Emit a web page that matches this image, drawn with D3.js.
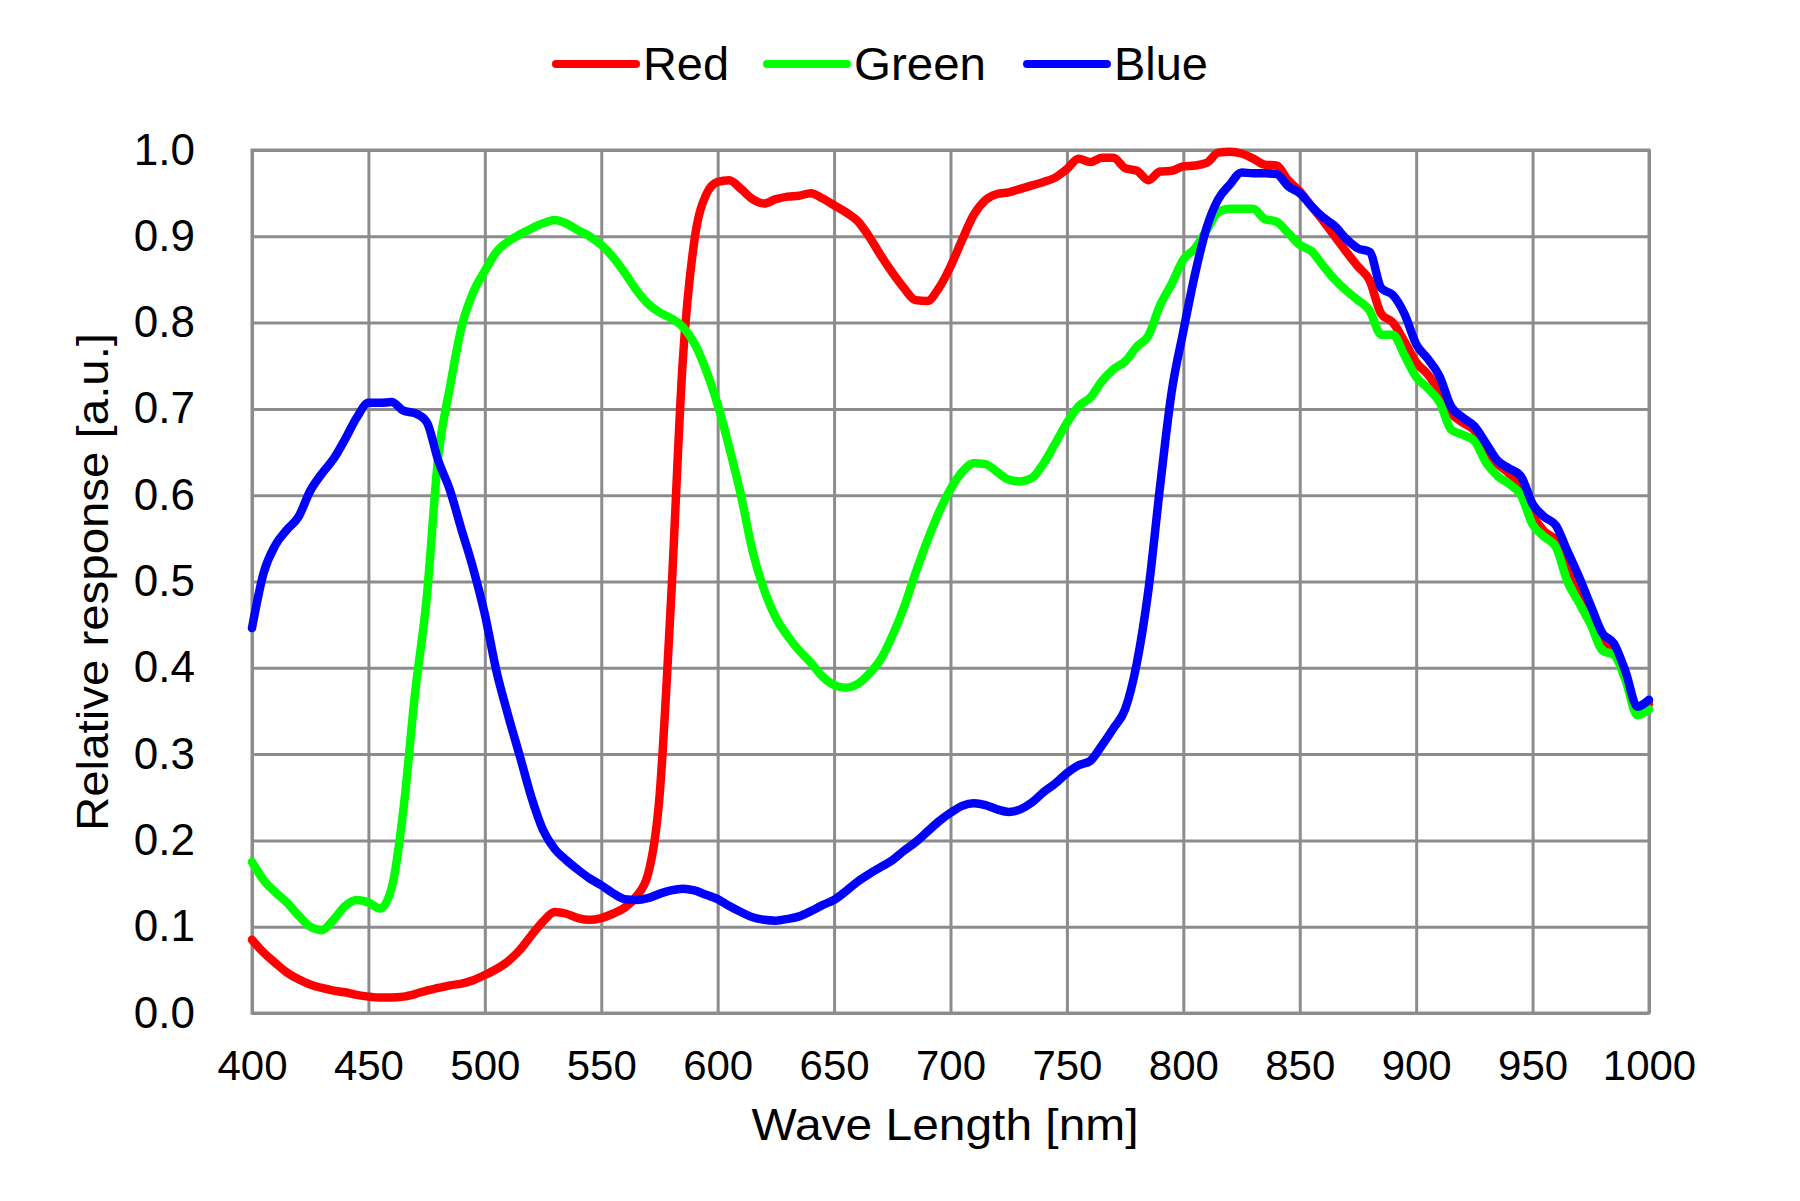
<!DOCTYPE html>
<html>
<head>
<meta charset="utf-8">
<script src="https://cdn.jsdelivr.net/npm/d3@7"></script>
<style>
  html, body { margin: 0; padding: 0; background: #fff; }
  svg { display: block; font-family: "Liberation Sans", Arial, sans-serif; }
</style>
</head>
<body>
<div id="chart"></div>
<script>
// wavelength grid, 5 nm steps
const wavelengths = d3.range(400, 1001, 5);

const red = [
  0.085, 0.070, 0.058, 0.047, 0.039, 0.033, 0.029, 0.026, 0.024, 0.021,
  0.019, 0.018, 0.018, 0.019, 0.022, 0.026, 0.029, 0.032, 0.034, 0.038,
  0.044, 0.051, 0.060, 0.073, 0.090, 0.106, 0.117, 0.115, 0.110, 0.108,
  0.110, 0.115, 0.122, 0.135, 0.160, 0.250, 0.480, 0.755, 0.895, 0.948,
  0.963, 0.965, 0.955, 0.943, 0.938, 0.943, 0.946, 0.947, 0.950, 0.944,
  0.936, 0.928, 0.918, 0.900, 0.878, 0.858, 0.840, 0.826, 0.825, 0.840,
  0.865, 0.896, 0.925, 0.942, 0.949, 0.951, 0.955, 0.959, 0.963, 0.968,
  0.978, 0.990, 0.986, 0.991, 0.991, 0.979, 0.976, 0.965, 0.975, 0.976,
  0.981, 0.982, 0.985, 0.997, 0.998, 0.996, 0.990, 0.983, 0.982, 0.965,
  0.952, 0.935, 0.918, 0.900, 0.882, 0.865, 0.849, 0.810, 0.800, 0.778,
  0.754, 0.740, 0.720, 0.695, 0.684, 0.675, 0.650, 0.636, 0.625, 0.610,
  0.577, 0.558, 0.548, 0.520, 0.495, 0.465, 0.435, 0.420, 0.390, 0.350,
  0.358
];

const green = [
  0.175, 0.154, 0.140, 0.128, 0.113, 0.100, 0.096, 0.108, 0.124, 0.131,
  0.128, 0.121, 0.145, 0.235, 0.370, 0.480, 0.645, 0.725, 0.795, 0.835,
  0.860, 0.882, 0.894, 0.902, 0.909, 0.915, 0.919, 0.915, 0.907, 0.900,
  0.890, 0.876, 0.858, 0.838, 0.822, 0.812, 0.805, 0.795, 0.776, 0.745,
  0.705, 0.655, 0.600, 0.535, 0.490, 0.458, 0.437, 0.420, 0.406, 0.390,
  0.380, 0.377, 0.381, 0.393, 0.410, 0.437, 0.470, 0.510, 0.547, 0.580,
  0.607, 0.627, 0.637, 0.636, 0.627, 0.618, 0.616, 0.620, 0.637, 0.660,
  0.684, 0.703, 0.713, 0.732, 0.746, 0.755, 0.772, 0.785, 0.820, 0.845,
  0.873, 0.886, 0.907, 0.928, 0.932, 0.932, 0.932, 0.920, 0.917, 0.904,
  0.890, 0.883, 0.866, 0.850, 0.837, 0.826, 0.814, 0.786, 0.786, 0.762,
  0.737, 0.724, 0.708, 0.676, 0.670, 0.663, 0.638, 0.622, 0.613, 0.600,
  0.566, 0.552, 0.540, 0.500, 0.475, 0.450, 0.420, 0.415, 0.385, 0.345,
  0.352
];

const blue = [
  0.446, 0.510, 0.542, 0.560, 0.575, 0.605, 0.625, 0.642, 0.665, 0.690,
  0.707, 0.707, 0.708, 0.698, 0.695, 0.685, 0.640, 0.606, 0.560, 0.515,
  0.462, 0.396, 0.345, 0.298, 0.250, 0.212, 0.190, 0.177, 0.166, 0.156,
  0.148, 0.139, 0.132, 0.131, 0.133, 0.138, 0.142, 0.144, 0.142, 0.137,
  0.132, 0.124, 0.117, 0.111, 0.108, 0.107, 0.109, 0.112, 0.118, 0.125,
  0.131, 0.141, 0.152, 0.161, 0.169, 0.177, 0.188, 0.198, 0.210, 0.222,
  0.232, 0.240, 0.243, 0.241, 0.236, 0.233, 0.236, 0.244, 0.256, 0.266,
  0.278, 0.287, 0.292, 0.310, 0.330, 0.352, 0.405, 0.490, 0.610, 0.720,
  0.790, 0.856, 0.910, 0.943, 0.960, 0.974, 0.973, 0.973, 0.972, 0.958,
  0.950, 0.935, 0.922, 0.912, 0.897, 0.886, 0.882, 0.840, 0.832, 0.810,
  0.775, 0.758, 0.738, 0.703, 0.690, 0.680, 0.660, 0.640, 0.631, 0.622,
  0.590, 0.575, 0.565, 0.535, 0.505, 0.472, 0.440, 0.428, 0.395, 0.355,
  0.363
];

const seriesNames = ["Red", "Green", "Blue"];
const seriesColors = ["#ff0000", "#00ff00", "#0000ff"];
const seriesValues = [red, green, blue];

const xTicks = d3.range(400, 1001, 50);
const yTicks = d3.range(0, 1.0001, 0.1);

const width = 1800, height = 1201;
const margin = { top: 150, right: 151, bottom: 188, left: 252 };
const w = width - margin.left - margin.right;
const h = height - margin.top - margin.bottom;

const svg = d3.select("#chart").append("svg")
    .attr("width", width)
    .attr("height", height);

const g = svg.append("g")
    .attr("transform", `translate(${margin.left},${margin.top})`);

const x = d3.scaleLinear().domain([400, 1000]).range([0, w]);
const y = d3.scaleLinear().domain([0, 1]).range([h, 0]);

const gridColor = "#8c8c8c";

// x grid + labels
const xAxis = g.append("g")
    .attr("transform", `translate(0,${h})`)
    .call(d3.axisBottom(x).tickValues(xTicks).tickSize(-h).tickPadding(37).tickFormat(d3.format("d")));

// y grid + labels
const yAxis = g.append("g")
    .call(d3.axisLeft(y).tickValues(yTicks).tickSize(-w).tickPadding(57).tickFormat(d3.format(".1f")));

[xAxis, yAxis].forEach(a => {
    a.select(".domain").remove();
    a.selectAll(".tick line")
        .attr("stroke", gridColor)
        .attr("stroke-width", 3);
    a.selectAll(".tick text")
        .attr("fill", "#000")
        .style("font-family", "'Liberation Sans', Arial, sans-serif");
});
xAxis.selectAll(".tick text").style("font-size", "42px");
yAxis.selectAll(".tick text").style("font-size", "44px");

// frame
g.append("rect")
    .attr("width", w)
    .attr("height", h)
    .attr("fill", "none")
    .attr("stroke", gridColor)
    .attr("stroke-width", 3);

// curves
const line = d3.line()
    .x((d, i) => x(wavelengths[i]))
    .y(d => y(d))
    .curve(d3.curveMonotoneX);

g.append("g")
    .selectAll("path")
    .data(seriesValues)
    .join("path")
        .attr("d", d => line(d))
        .attr("fill", "none")
        .attr("stroke", (d, i) => seriesColors[i])
        .attr("stroke-width", 8.5)
        .attr("stroke-linejoin", "round")
        .attr("stroke-linecap", "round");

// axis titles
svg.append("text")
    .attr("x", 945)
    .attr("y", 1140)
    .attr("text-anchor", "middle")
    .attr("textLength", 387)
    .attr("lengthAdjust", "spacingAndGlyphs")
    .style("font-size", "44px")
    .text("Wave Length [nm]");

svg.append("text")
    .attr("transform", "translate(108,582) rotate(-90)")
    .attr("text-anchor", "middle")
    .attr("textLength", 498)
    .attr("lengthAdjust", "spacingAndGlyphs")
    .style("font-size", "45px")
    .text("Relative response [a.u.]");

// legend
const legendX = [556, 767, 1027];
const legendTextW = [86, 132, 94];
const legend = svg.append("g")
    .selectAll("g")
    .data(seriesNames)
    .join("g")
        .attr("transform", (d, i) => `translate(${legendX[i]},64)`);

legend.append("line")
    .attr("x1", 0)
    .attr("x2", 80)
    .attr("stroke", (d, i) => seriesColors[i])
    .attr("stroke-width", 8)
    .attr("stroke-linecap", "round");

legend.append("text")
    .attr("x", 87)
    .attr("y", 16)
    .attr("textLength", (d, i) => legendTextW[i])
    .attr("lengthAdjust", "spacingAndGlyphs")
    .style("font-size", "46px")
    .text(d => d);
</script>
</body>
</html>
